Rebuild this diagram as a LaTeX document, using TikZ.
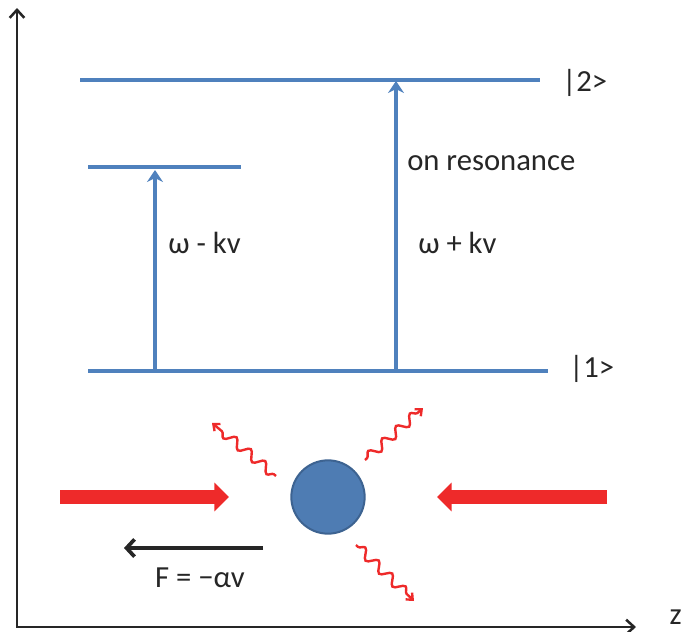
\documentclass[tikz,border=0pt]{standalone}
\usepackage{fontspec}
\setmainfont{Carlito}
\usetikzlibrary{arrows.meta,positioning,decorations.pathmorphing}
\definecolor{levelblue}{HTML}{4F81BD}
\definecolor{atomfill}{HTML}{4E7CB3}
\definecolor{atomdraw}{HTML}{3D6391}
\definecolor{laserred}{HTML}{EE2A2A}
\definecolor{textgray}{HTML}{262626}
\begin{document}
\begin{tikzpicture}[
x=0.75pt,y=-0.75pt,
levelline/.style={line width=3pt,draw=levelblue},
trans/.style={-{Stealth[length=9pt,width=12pt,inset=3pt]},line width=3pt,draw=levelblue},
laser/.style={-{Triangle[length=11pt,width=21pt]},line width=10.5pt,draw=laserred},
photon/.style={-{Straight Barb[length=4pt,width=7pt]},line width=1.8pt,draw=laserred,
decorate,decoration={snake,amplitude=3.5pt,segment length=14pt,pre length=2pt,post length=5pt}},
axis/.style={{Straight Barb[length=6pt,width=11pt]}-{Straight Barb[length=6pt,width=11pt]},line width=1.9pt,textgray},
lbl/.style={font=\fontsize{23}{27}\selectfont,text=textgray,inner sep=0pt},
atomstyle/.style={circle,fill=atomfill,draw=atomdraw,line width=1.5pt,minimum size=55pt,inner sep=0pt}
]
\useasboundingbox (0,0) rectangle (687,632);
% axes
\coordinate (ytop) at (17,8);
\coordinate (orig) at (17,627);
\coordinate (xend) at (636,627);
\draw[axis] (ytop) -- (orig) -- (xend);
\node[lbl,anchor=south east] (zlab) at (682,625) {z};
% levels
\coordinate (up2a) at (80,80);
\coordinate (up2b) at (540,80);
\coordinate (virta) at (88,167);
\coordinate (virtb) at (241,167);
\coordinate (low1a) at (88,371);
\coordinate (low1b) at (548,371);
\draw[levelline] (up2a) -- (up2b);
\draw[levelline] (virta) -- (virtb);
\draw[levelline] (low1a) -- (low1b);
\node[lbl,anchor=west] (ket2) at (562,83) {|2>};
\node[lbl,anchor=west] (ket1) at (569,369) {|1>};
% transitions
\coordinate (redfoot) at (155,371);
\coordinate (redtip) at (155,170);
\coordinate (resfoot) at (396,371);
\coordinate (restip) at (396,81);
\draw[trans] (redfoot) -- (redtip);
\draw[trans] (resfoot) -- (restip);
\node[lbl,anchor=west] (minus) at (168,243) {ω - kv};
\node[lbl,anchor=west] (onres) at (407,163) {on resonance};
\node[lbl,anchor=west] (plus) at (418,243) {ω + kv};
% atom and lasers
\node[atomstyle] (atom) at (328,497) {};
\coordinate (lasL) at (60,497);
\coordinate (lasR) at (607,497);
\draw[laser] (lasL) -- ++(169,0) coordinate (lasLtip);
\draw[laser] (lasR) -- ++(-170,0) coordinate (lasRtip);
% scattered photons
\coordinate (phAs) at (276,476);
\coordinate (phAe) at (212,423);
\coordinate (phBs) at (365,460);
\coordinate (phBe) at (423,408);
\coordinate (phCs) at (356,545);
\coordinate (phCe) at (414,601);
\draw[photon] (phAs) -- (phAe);
\draw[photon] (phBs) -- (phBe);
\draw[photon] (phCs) -- (phCe);
% force
\coordinate (fstart) at (263,548);
\coordinate (fend) at (124,548);
\draw[-{Straight Barb[length=6pt,width=13pt]},line width=2.8pt,textgray] (fstart) -- (fend);
\node[lbl] (force) at (200,578) {F = −αv};
\end{tikzpicture}
\end{document}
